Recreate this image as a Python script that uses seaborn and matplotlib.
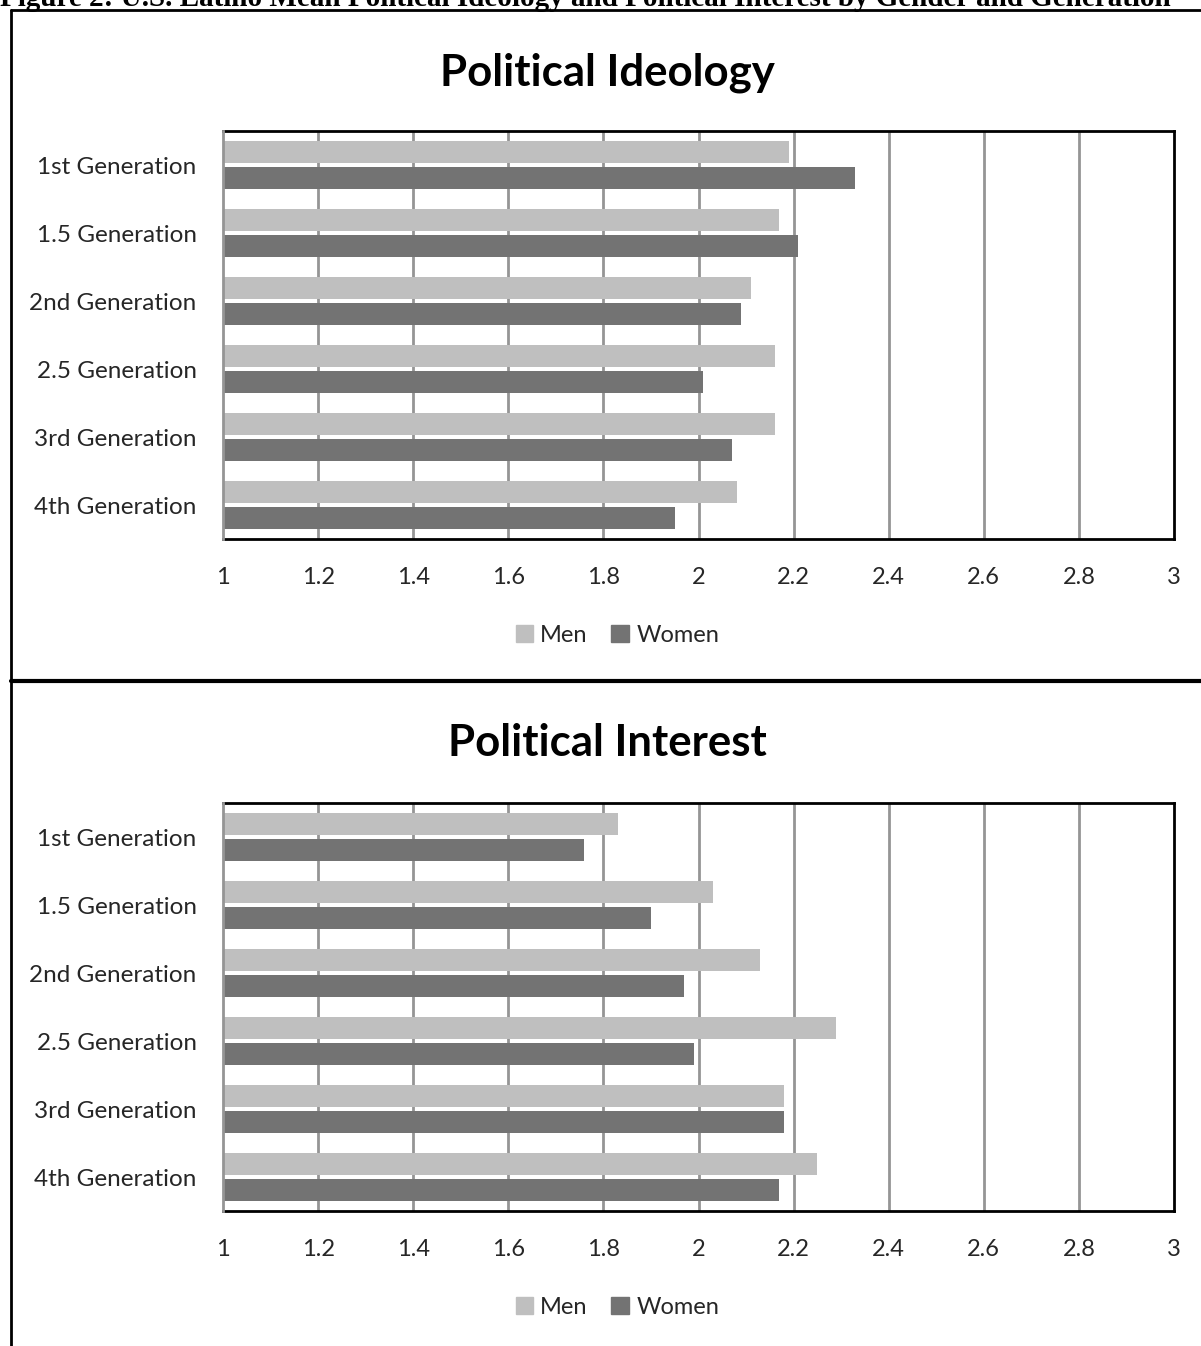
import matplotlib
matplotlib.use("Agg")
import matplotlib.pyplot as plt
import matplotlib.lines as mlines
import matplotlib.patches as mpatches
import seaborn as sns
import pandas as pd

generations = ["1st Generation", "1.5 Generation", "2nd Generation",
               "2.5 Generation", "3rd Generation", "4th Generation"]
genders = ["Men", "Women"]

ideology_men = [2.19, 2.17, 2.11, 2.16, 2.16, 2.08]
ideology_women = [2.33, 2.21, 2.09, 2.01, 2.07, 1.95]

interest_men = [1.83, 2.03, 2.13, 2.29, 2.18, 2.25]
interest_women = [1.76, 1.90, 1.97, 1.99, 2.18, 2.17]

x_ticks = [1, 1.2, 1.4, 1.6, 1.8, 2, 2.2, 2.4, 2.6, 2.8, 3]
x_ticklabels = ["1", "1.2", "1.4", "1.6", "1.8", "2", "2.2", "2.4", "2.6", "2.8", "3"]

caption = ("Figure 2: U.S. Latino Mean Political Ideology and Political "
           "Interest by Gender and Generation")

colors = {"Men": "#BFBFBF", "Women": "#737373"}

sns.set_theme(style="white")
plt.rcParams["font.family"] = ["Lato", "DejaVu Sans"]

W, H = 1201, 1346
fig = plt.figure(figsize=(W / 100, H / 100), dpi=100)


def long_frame(men, women):
    rows = []
    for g, m, w in zip(generations, men, women):
        rows.append({"generation": g, "gender": "Men", "value": m})
        rows.append({"generation": g, "gender": "Women", "value": w})
    return pd.DataFrame(rows)


def panel(rect, title, title_y, legend_y, men, women):
    ax = fig.add_axes(rect)
    df = long_frame(men, women)
    sns.barplot(data=df, y="generation", x="value", hue="gender",
                order=generations, hue_order=genders, palette=colors,
                orient="h", width=0.74, gap=0.12, dodge=True,
                linewidth=0, ax=ax, legend=False, zorder=3)
    ax.set_xlim(1, 3)
    ax.set_ylim(len(generations) - 0.5, -0.5)
    ax.set_xticks(x_ticks)
    ax.set_xticklabels(x_ticklabels, fontsize=17)
    ax.tick_params(axis="x", length=0, pad=20)
    ax.tick_params(axis="y", length=0, pad=19, labelsize=17.5)
    ax.set_xlabel("")
    ax.set_ylabel("")
    ax.grid(False)
    for xv in x_ticks[1:-1]:
        ax.axvline(xv, color="#959595", lw=2, zorder=1)
    for side in ["top", "right", "bottom"]:
        ax.spines[side].set_color("black")
        ax.spines[side].set_linewidth(2)
        ax.spines[side].set_visible(True)
    ax.spines["left"].set_color("#959595")
    ax.spines["left"].set_linewidth(2)
    ax.spines["left"].set_zorder(4)

    fig.text(0.506, title_y, title, ha="center", va="center",
             fontsize=31.5, fontweight="bold", color="black")

    handles = [mpatches.Patch(color=colors[g], label=g) for g in genders]
    fig.legend(handles=handles, loc="center", bbox_to_anchor=(0.514, legend_y),
               ncol=2, frameon=False, fontsize=17, handlelength=0.75,
               handleheight=0.75, handletextpad=0.3, columnspacing=1.0)
    return ax


ax_top = panel([223 / W, 1 - 539 / H, (1174 - 223) / W, 408 / H],
               "Political Ideology", 1 - 73 / H, 1 - 635 / H,
               ideology_men, ideology_women)
ax_bot = panel([223 / W, 1 - 1211 / H, (1174 - 223) / W, 408 / H],
               "Political Interest", 1 - 743 / H, 1 - 1307 / H,
               interest_men, interest_women)

# outer chart frames
frame_kw = dict(color="black", lw=2, transform=fig.transFigure)
fig.add_artist(mlines.Line2D([11 / W, 1.01], [1 - 10 / H, 1 - 10 / H], **frame_kw))
fig.add_artist(mlines.Line2D([11 / W, 11 / W], [1 - 10 / H, -0.01], **frame_kw))
fig.add_artist(mlines.Line2D([11 / W, 1.01], [1 - 681 / H, 1 - 681 / H],
                             color="black", lw=3, transform=fig.transFigure))

# figure caption running off the top edge
fig.text(0.0, 1 - 6 / H, caption, ha="left", va="baseline",
         fontsize=21, fontweight="bold", family="Liberation Serif",
         color="black")

fig.savefig("out.png", dpi=100, facecolor="white")
